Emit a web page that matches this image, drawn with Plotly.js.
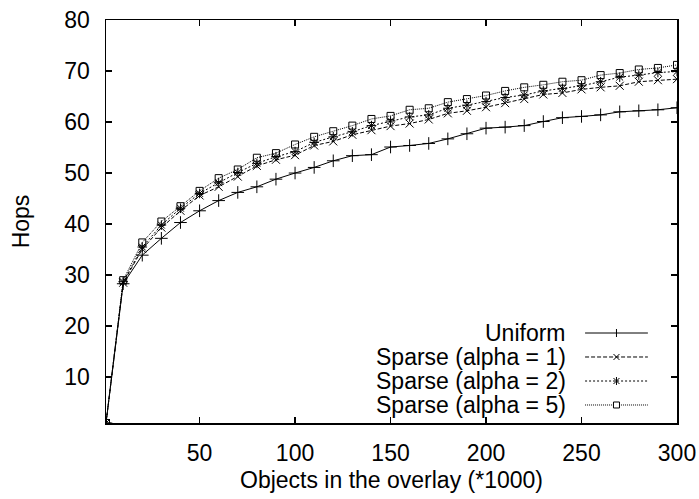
<!DOCTYPE html>
<html>
<head>
<meta charset="utf-8">
<script src="https://cdn.plot.ly/plotly-3.0.1.min.js"></script>
<style>html,body{margin:0;padding:0;background:#fff;}#chart{width:699px;height:499px;}</style>
</head>
<body>
<div id="chart"></div>
<script>
// Objects in the overlay (*1000)
const objects = [1, 10, 20, 30, 40, 50, 60, 70, 80, 90, 100, 110, 120, 130, 140, 150,
  160, 170, 180, 190, 200, 210, 220, 230, 240, 250, 260, 270, 280, 290, 300];
const uniform = [1, 28.3, 33.9, 37.2, 40.3, 42.6, 44.6, 46.2, 47.3, 48.8, 50.0, 51.1, 52.4, 53.4, 53.6, 55.1,
  55.4, 55.8, 56.7, 57.7, 58.8, 59.0, 59.3, 60.1, 60.85, 61.1, 61.4, 62.0, 62.2, 62.4, 62.8];
const sparse1 = [1, 28.5, 35.1, 39.3, 42.6, 45.6, 47.3, 49.3, 51.4, 52.6, 53.5, 55.4, 56.2, 57.5, 58.4, 59.2,
  59.7, 60.5, 61.7, 62.2, 62.9, 63.7, 64.5, 65.4, 65.7, 66.4, 66.8, 67.1, 67.9, 68.2, 68.4];
const sparse2 = [1, 28.7, 35.5, 39.8, 43.1, 46.0, 48.1, 50.1, 51.9, 53.2, 54.2, 56.0, 57.1, 58.1, 59.3, 60.2,
  61.0, 61.4, 62.7, 63.3, 64.0, 64.8, 65.3, 66.1, 66.6, 67.1, 67.9, 68.8, 69.2, 69.7, 69.9];
const sparse5 = [1, 29.0, 36.4, 40.5, 43.5, 46.5, 49.0, 50.7, 53.0, 53.9, 55.6, 57.1, 58.2, 59.3, 60.6, 61.2,
  62.4, 62.7, 63.9, 64.5, 65.2, 66.1, 66.8, 67.3, 67.9, 68.2, 69.2, 69.6, 70.3, 70.6, 71.2];
const seriesNames = ['Uniform', 'Sparse (alpha = 1)', 'Sparse (alpha = 2)', 'Sparse (alpha = 5)'];
const xTicks = [50, 100, 150, 200, 250, 300];
const yTicks = [10, 20, 30, 40, 50, 60, 70, 80];

const FONT = 'Liberation Sans, Arial, Helvetica, sans-serif';
const FS = 23;
const styles = [
  {dash: 'solid', symbol: 'cross-thin-open', size: 9},
  {dash: '4px,2px', symbol: 'x-thin-open', size: 8},
  {dash: '2px,2px', symbol: 'asterisk-open', size: 8},
  {dash: '1px,1px', symbol: 'square-open', size: 7}
];
const allY = [uniform, sparse1, sparse2, sparse5];

const traces = allY.map((ys, i) => ({
  type: 'scatter', mode: 'lines+markers', name: seriesNames[i],
  x: objects, y: ys, showlegend: false,
  line: {color: '#000', width: 1, dash: styles[i].dash},
  marker: {symbol: styles[i].symbol, size: styles[i].size, color: '#000',
           line: {color: '#000', width: 1}}
}));

// gnuplot-style key: text right-aligned, sample line to its right
const keyTextX = 0.809, keyX0 = 0.839, keyX1 = 0.949, keyMid = 0.894;
const keyRows = [0.2233, 0.1638, 0.1042, 0.0447];
const shapes = [];
const annotations = [];
keyRows.forEach((ky, i) => {
  annotations.push({xref: 'paper', yref: 'paper', x: keyTextX, y: ky, xanchor: 'right', yanchor: 'middle',
    text: seriesNames[i], showarrow: false, font: {family: FONT, size: FS, color: '#000'}});
  shapes.push({type: 'line', xref: 'paper', yref: 'paper', x0: keyX0, x1: keyX1, y0: ky, y1: ky,
    line: {color: '#000', width: 1, dash: styles[i].dash}});
  const pix = (x0, x1, y0, y1, extra) => Object.assign({type: 'line', xref: 'paper', yref: 'paper',
    xsizemode: 'pixel', ysizemode: 'pixel', xanchor: keyMid, yanchor: ky,
    x0: x0, x1: x1, y0: y0, y1: y1, line: {color: '#000', width: 1}}, extra || {});
  if (i === 0) {
    shapes.push(pix(0, 0, -4, 4));
  } else if (i === 1) {
    shapes.push(pix(-3, 3, -3, 3));
    shapes.push(pix(-3, 3, 3, -3));
  } else if (i === 2) {
    shapes.push(pix(-3, 3, -3, 3));
    shapes.push(pix(-3, 3, 3, -3));
    shapes.push(pix(0, 0, -4, 4));
  } else {
    shapes.push(pix(-3, 3, -3, 3, {type: 'rect', fillcolor: '#fff'}));
  }
});

const axisCommon = {
  showline: true, linecolor: '#000', linewidth: 1.5, mirror: 'allticks',
  ticks: 'inside', ticklen: 6, tickwidth: 1.5, tickcolor: '#000',
  showgrid: false, zeroline: false,
  tickfont: {family: FONT, size: FS, color: '#000'}
};

const layout = {
  width: 699, height: 499,
  margin: {l: 106, r: 22, t: 20, b: 76},
  paper_bgcolor: '#fff', plot_bgcolor: '#fff',
  font: {family: FONT, size: FS, color: '#000'},
  xaxis: Object.assign({}, axisCommon, {
    range: [1, 300], tickmode: 'array', tickvals: xTicks, ticktext: xTicks.map(String),
    ticklabelstandoff: 9,
    title: {text: 'Objects in the overlay (*1000)', font: {family: FONT, size: FS, color: '#000'}, standoff: 7}
  }),
  yaxis: Object.assign({}, axisCommon, {
    range: [1, 80], tickmode: 'array', tickvals: yTicks, ticktext: yTicks.map(String),
    ticklabelstandoff: 10,
    title: {text: 'Hops', font: {family: FONT, size: FS, color: '#000'}, standoff: 28}
  }),
  shapes: shapes,
  annotations: annotations,
  showlegend: false
};

Plotly.newPlot('chart', traces, layout, {staticPlot: true, displayModeBar: false});
</script>
</body>
</html>
